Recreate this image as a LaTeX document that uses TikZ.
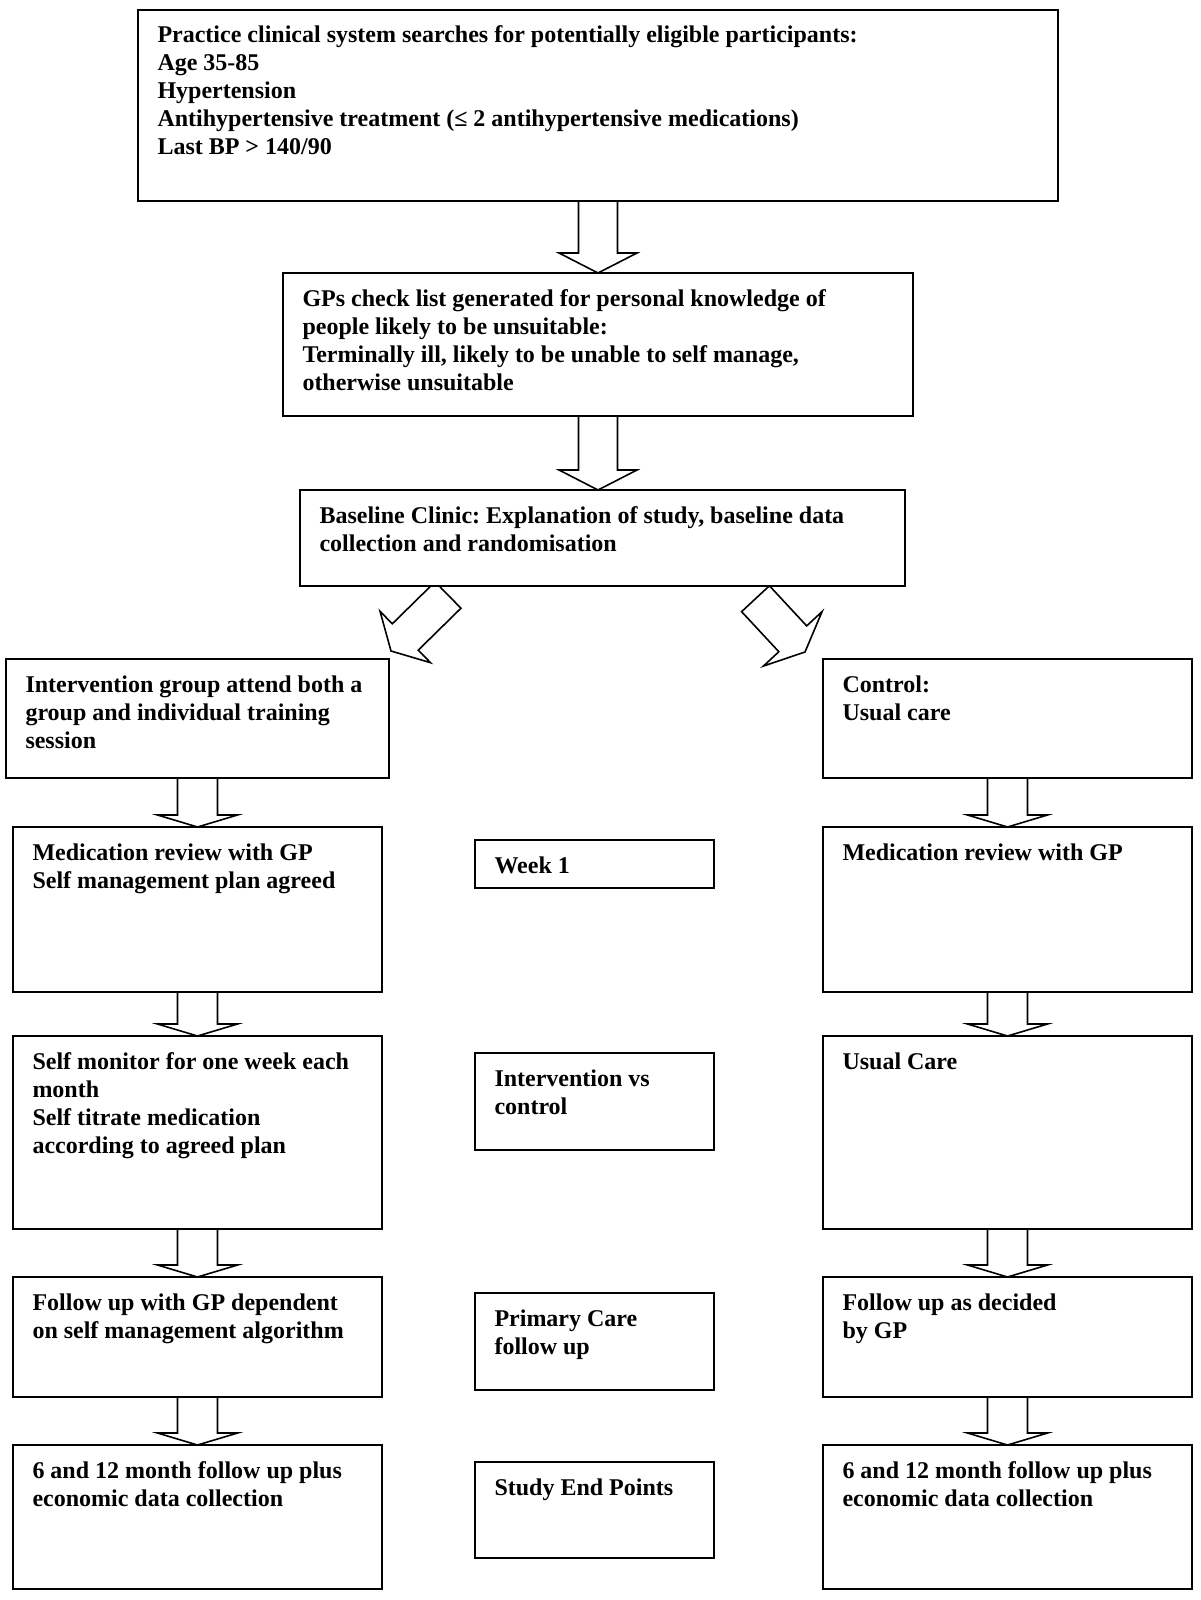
\documentclass[tikz,border=0pt]{standalone}
\usepackage{fontspec}
\setmainfont{Liberation Serif}
\usetikzlibrary{calc,backgrounds}
\frenchspacing
\newdimen\pxu \pxu=0.5pt
\newcommand{\bx}[3]{\parbox[c][#2\pxu][t]{#1\pxu}{\frenchspacing\leftskip=19.5\pxu\rightskip=0pt plus 1fil\parindent=0pt\parfillskip=0pt plus 1fil\rule{0pt}{33\pxu}#3\par}}
\newcommand{\blockarrow}[5]{%
  \coordinate (ba-s) at #1;
  \coordinate (ba-t) at #2;
  \coordinate (ba-h) at ($(ba-t)!#5!(ba-s)$);
  \draw[barrow] ($(ba-s)!#3!90:(ba-t)$) -- ($(ba-h)!#3!90:(ba-t)$) -- ($(ba-h)!#4!90:(ba-t)$) -- (ba-t)
     -- ($(ba-h)!#4!-90:(ba-t)$) -- ($(ba-h)!#3!-90:(ba-t)$) -- ($(ba-s)!#3!-90:(ba-t)$) -- cycle;}
\tikzset{
  box/.style={draw, line width=1pt, fill=white, inner sep=0pt, outer sep=0pt, anchor=north west,
    font=\fontsize{12pt}{14pt}\selectfont\bfseries},
  barrow/.style={draw, line width=0.8pt, fill=white, line join=miter}
}
\begin{document}
\begin{tikzpicture}[x=0.5pt,y=-0.5pt]
\useasboundingbox (0,0) rectangle (1200,1600);
\node[box] (t1) at (138,10) {\bx{920}{191}{Practice clinical system searches for potentially eligible participants:\\Age 35-85\\Hypertension\\Antihypertensive treatment (≤ 2 antihypertensive medications)\\Last BP > 140/90}};
\node[box] (t2) at (283,273) {\bx{630}{143}{GPs check list generated for personal knowledge of\\people likely to be unsuitable:\\Terminally ill, likely to be unable to self manage,\\otherwise unsuitable}};
\node[box] (t3) at (300,490) {\bx{605}{96}{Baseline Clinic: Explanation of study, baseline data\\collection and randomisation}};
\node[box] (l1) at (6,659) {\bx{383}{119}{Intervention group attend both a\\group and individual training\\session}};
\node[box] (r1) at (823,659) {\bx{369}{119}{Control:\\Usual care}};
\node[box] (l2) at (13,827) {\bx{369}{165}{Medication review with GP\\Self management plan agreed}};
\node[box] (m2) at (475,840) {\bx{239}{48}{Week 1}};
\node[box] (r2) at (823,827) {\bx{369}{165}{Medication review with GP}};
\node[box] (l3) at (13,1036) {\bx{369}{193}{Self monitor for one week each\\month\\Self titrate medication\\according to agreed plan}};
\node[box] (m3) at (475,1053) {\bx{239}{97}{Intervention vs\\control}};
\node[box] (r3) at (823,1036) {\bx{369}{193}{Usual Care}};
\node[box] (l4) at (13,1277) {\bx{369}{120}{Follow up with GP dependent\\on self management algorithm}};
\node[box] (m4) at (475,1293) {\bx{239}{97}{Primary Care\\follow up}};
\node[box] (r4) at (823,1277) {\bx{369}{120}{Follow up as decided\\by GP}};
\node[box] (l5) at (13,1445) {\bx{369}{144}{6 and 12 month follow up plus\\economic data collection}};
\node[box] (m5) at (475,1462) {\bx{239}{96}{Study End Points}};
\node[box] (r5) at (823,1445) {\bx{369}{144}{6 and 12 month follow up plus\\economic data collection}};
\begin{pgfonlayer}{background}
\blockarrow{(t1.south)}{(t1.south |- t2.north)}{9.75pt}{19.5pt}{10pt}
\blockarrow{(t2.south)}{(t2.south |- t3.north)}{9.75pt}{19.5pt}{10pt}
\blockarrow{($(t3.south)+(-154.5,9)$)}{($(t3.south)+(-211.5,65)$)}{9.25pt}{18pt}{10pt}
\blockarrow{($(t3.south)+(153,12.7)$)}{($(t3.south)+(202.5,66)$)}{9.5pt}{20pt}{9pt}
\blockarrow{(l1.south)}{(l1.south |- l2.north)}{10pt}{20pt}{6pt}
\blockarrow{(l2.south)}{(l2.south |- l3.north)}{10pt}{20pt}{6pt}
\blockarrow{(l3.south)}{(l3.south |- l4.north)}{10pt}{20pt}{6pt}
\blockarrow{(l4.south)}{(l4.south |- l5.north)}{10pt}{20pt}{6pt}
\blockarrow{(r1.south)}{(r1.south |- r2.north)}{10pt}{20pt}{6pt}
\blockarrow{(r2.south)}{(r2.south |- r3.north)}{10pt}{20pt}{6pt}
\blockarrow{(r3.south)}{(r3.south |- r4.north)}{10pt}{20pt}{6pt}
\blockarrow{(r4.south)}{(r4.south |- r5.north)}{10pt}{20pt}{6pt}
\end{pgfonlayer}
\end{tikzpicture}
\end{document}
